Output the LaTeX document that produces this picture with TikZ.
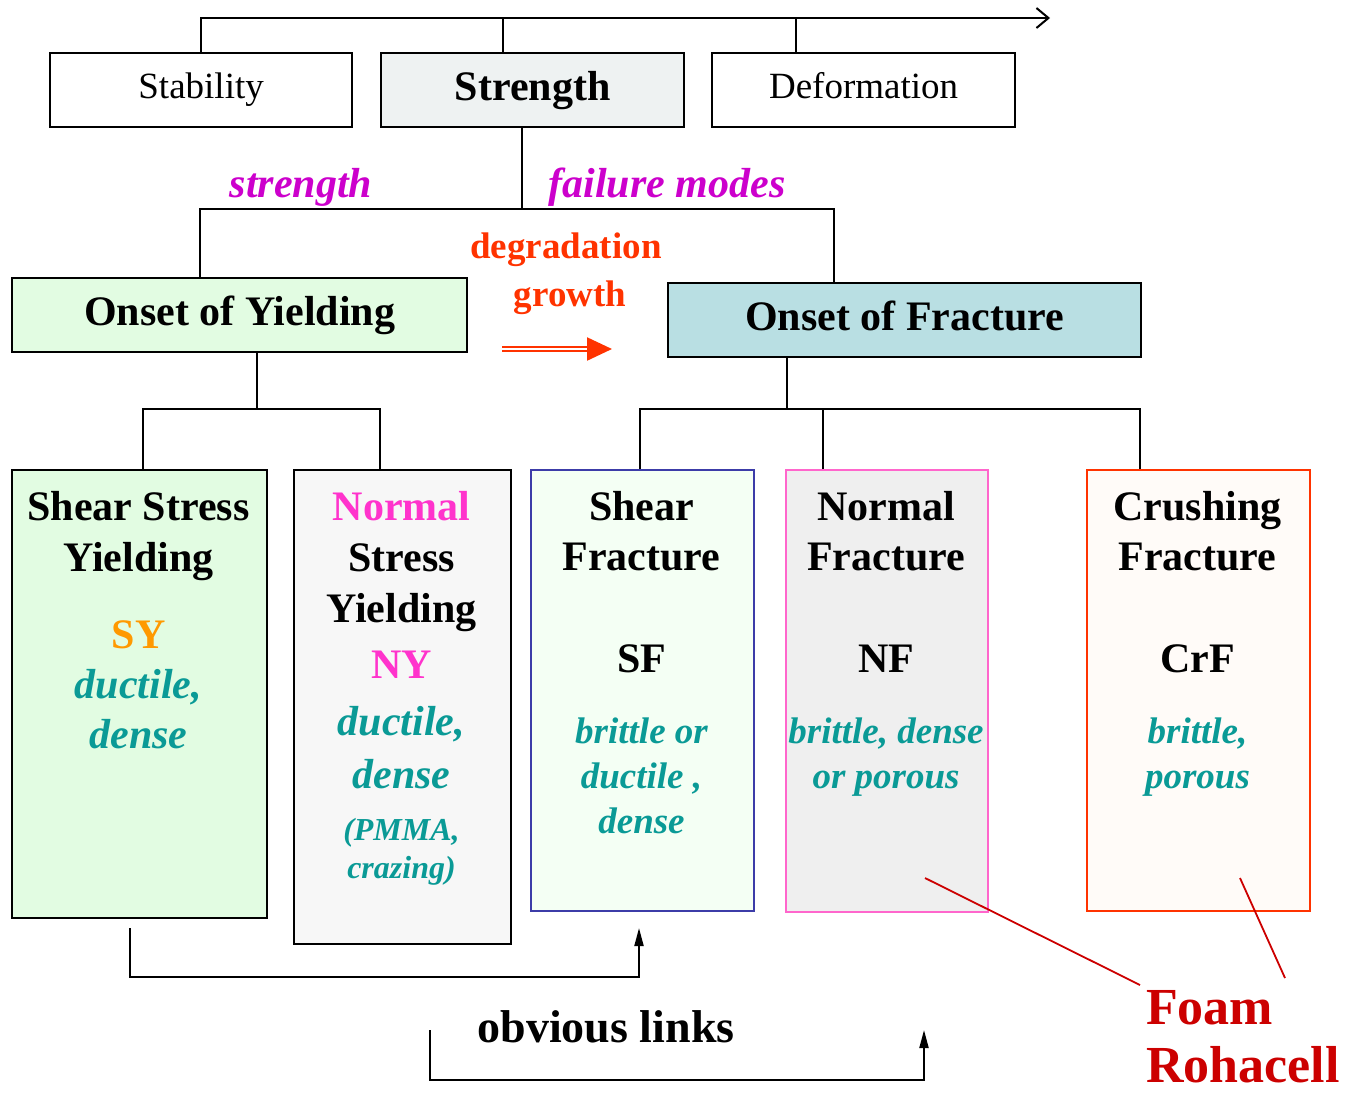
\documentclass[tikz,border=0pt]{standalone}
\usepackage{fontspec}
\setmainfont{Liberation Serif}
\usepackage{tikz}
\usetikzlibrary{arrows.meta}
\definecolor{strgray}{HTML}{EEF2F2}
\definecolor{yieldgreen}{HTML}{E2FCE2}
\definecolor{fracblue}{HTML}{B9DFE3}
\definecolor{nsyfill}{HTML}{F7F7F7}
\definecolor{sffill}{HTML}{F4FFF4}
\definecolor{sfline}{HTML}{3C3CA8}
\definecolor{nffill}{HTML}{EFEFEF}
\definecolor{nfline}{HTML}{FF66CC}
\definecolor{crffill}{HTML}{FFFBF8}
\definecolor{crfline}{HTML}{FF3300}
\definecolor{magent}{HTML}{CC00CC}
\definecolor{pinkish}{HTML}{FF33CC}
\definecolor{orangey}{HTML}{FF9900}
\definecolor{tealish}{HTML}{0A9A96}
\definecolor{degred}{HTML}{FF3300}
\definecolor{foamred}{HTML}{CC0000}
\tikzset{
  tree/.style={draw=black,line width=2pt},
  link/.style={tree,-{Triangle[length=18pt,width=9pt]}},
  growth/.style={draw=degred,double=white,double distance=2pt,line width=2.3pt,
                 -{Triangle[length=25pt,width=23pt]}},
  pointer/.style={draw=foamred,line width=1.8pt},
  box/.style={draw=black,line width=2.2pt,anchor=north west,inner sep=0pt},
  col/.style={box,line width=2pt},
  plain/.style={font=\fontsize{37}{44}\selectfont,text height=25pt,text depth=8pt},
  head/.style={font=\fontsize{42}{51}\selectfont\bfseries,text height=29pt,text depth=9pt},
  txt/.style={anchor=base,inner sep=0pt},
  hd/.style={txt,font=\fontsize{42}{51}\selectfont\bfseries},
  pk/.style={hd,text=pinkish},
  sy/.style={hd,text=orangey},
  dsc/.style={txt,font=\fontsize{42}{51}\selectfont\bfseries\itshape,text=tealish},
  dsm/.style={txt,font=\fontsize{37}{45}\selectfont\bfseries\itshape,text=tealish},
  dss/.style={txt,font=\fontsize{32}{38}\selectfont\bfseries\itshape,text=tealish},
  mag/.style={txt,font=\fontsize{42}{51}\selectfont\bfseries\itshape,text=magent},
  deg/.style={txt,font=\fontsize{37}{45}\selectfont\bfseries,text=degred},
  foam/.style={txt,anchor=base west,font=\fontsize{52}{62}\selectfont\bfseries,text=foamred}
}
\begin{document}
\begin{tikzpicture}[x=1pt,y=-1pt]
  \useasboundingbox (0,0) rectangle (1348,1096);
  % top row
  \node[box,minimum width=302pt,minimum height=74pt,plain] (stab) at (49,52) {Stability};
  \node[box,fill=strgray,minimum width=303pt,minimum height=74pt,head] (str) at (380,52) {Strength};
  \node[box,minimum width=303pt,minimum height=74pt,plain] (def) at (711,52) {Deformation};
  \coordinate (topR) at (1050,18);
  \coordinate (strTop) at (503,52);
  \coordinate (defTop) at (796,52);
  \draw[tree,-{Straight Barb[length=12pt,width=20pt]}] (stab.north) |- (topR);
  \draw[tree] (strTop) -- (strTop |- topR);
  \draw[tree] (defTop) -- (defTop |- topR);
  % onset boxes
  \node[box,fill=yieldgreen,minimum width=455pt,minimum height=74pt,head] (oy) at (11,277) {Onset of Yielding};
  \node[box,fill=fracblue,minimum width=473pt,minimum height=74pt,head] (of) at (667,282) {Onset of Fracture};
  \coordinate (strBot) at (522,126);
  \coordinate (fork) at (522,209);
  \coordinate (oyTop) at (200,277);
  \coordinate (ofTop) at (834,282);
  \draw[tree] (strBot) -- (fork);
  \draw[tree] (oyTop) |- (ofTop |- fork) -- (ofTop);
  \node[mag] (lstr) at (301,197) {strength};
  \node[mag] (lfail) at (667,197) {failure modes};
  \node[deg] (ldeg) at (566,258) {degradation};
  \node[deg] (lgrow) at (570,306) {growth};
  \coordinate (growA) at (502,349);
  \coordinate (growB) at (612,349);
  \draw[growth] (growA) -- (growB);
  % failure mode boxes
  \node[box,fill=yieldgreen,minimum width=255pt,minimum height=448pt] (ssy) at (11,469) {};
  \node[box,fill=nsyfill,minimum width=217pt,minimum height=474pt] (nsy) at (293,469) {};
  \node[col,draw=sfline,fill=sffill,minimum width=223pt,minimum height=441pt] (sf) at (530,469) {};
  \node[col,draw=nfline,fill=nffill,minimum width=202pt,minimum height=442pt] (nf) at (785,469) {};
  \node[col,draw=crfline,fill=crffill,minimum width=223pt,minimum height=441pt] (crf) at (1086,469) {};
  \coordinate (oyBot) at (257,351);
  \coordinate (yfork) at (257,409);
  \coordinate (ssyTop) at (143,469);
  \coordinate (nsyTop) at (380,469);
  \draw[tree] (oyBot) -- (yfork);
  \draw[tree] (ssyTop) |- (yfork) -| (nsyTop);
  \coordinate (ofBot) at (787,356);
  \coordinate (ffork) at (787,409);
  \coordinate (sfTop) at (640,469);
  \coordinate (nfTop) at (823,469);
  \coordinate (crfTop) at (1140,469);
  \draw[tree] (ofBot) -- (ffork);
  \draw[tree] (sfTop) |- (crfTop |- ffork) -- (crfTop);
  \draw[tree] (nfTop) -- (nfTop |- ffork);
  % box texts
  \foreach \t/\yy/\sty [count=\i] in {Shear Stress/520/hd,Yielding/571/hd,SY/648/sy,
      {ductile,}/698/dsc,dense/748/dsc}
    \node[\sty] (ssy\i) at (138.5,\yy) {\t};
  \foreach \t/\yy/\sty [count=\i] in {Normal/520/pk,Stress/571/hd,Yielding/622/hd,NY/678/pk,
      {ductile,}/735/dsc,dense/788/dsc,{(PMMA,}/840/dss,crazing)/878/dss}
    \node[\sty] (nsy\i) at (401.5,\yy) {\t};
  \foreach \t/\yy/\sty [count=\i] in {Shear/520/hd,Fracture/570/hd,SF/672/hd,
      brittle or/743/dsm,{ductile ,}/788/dsm,dense/833/dsm}
    \node[\sty] (sf\i) at (641.5,\yy) {\t};
  \foreach \t/\yy/\sty [count=\i] in {Normal/520/hd,Fracture/570/hd,NF/672/hd,
      {brittle, dense}/743/dsm,or porous/788/dsm}
    \node[\sty] (nf\i) at (886,\yy) {\t};
  \foreach \t/\yy/\sty [count=\i] in {Crushing/520/hd,Fracture/570/hd,CrF/672/hd,
      {brittle,}/743/dsm,porous/788/dsm}
    \node[\sty] (crf\i) at (1197.5,\yy) {\t};
  % obvious links
  \coordinate (linkA) at (130,928);
  \coordinate (linkB) at (639,928);
  \coordinate (linkC) at (430,1030);
  \coordinate (linkD) at (924,1030);
  \draw[link] (linkA) -- ++(0,49) -| (linkB);
  \draw[link] (linkC) -- ++(0,50) -| (linkD);
  \node[txt,font=\fontsize{46}{55}\selectfont\bfseries] (links) at (606,1042) {obvious links};
  % foam
  \node[foam] (foam1) at (1146,1024) {Foam};
  \node[foam] (foam2) at (1146,1082) {Rohacell};
  \coordinate (nfPt) at (925,878);
  \coordinate (crfPt) at (1240,878);
  \coordinate (foamA) at (1140,985);
  \coordinate (foamB) at (1285,978);
  \draw[pointer] (nfPt) -- (foamA);
  \draw[pointer] (crfPt) -- (foamB);
\end{tikzpicture}
\end{document}
